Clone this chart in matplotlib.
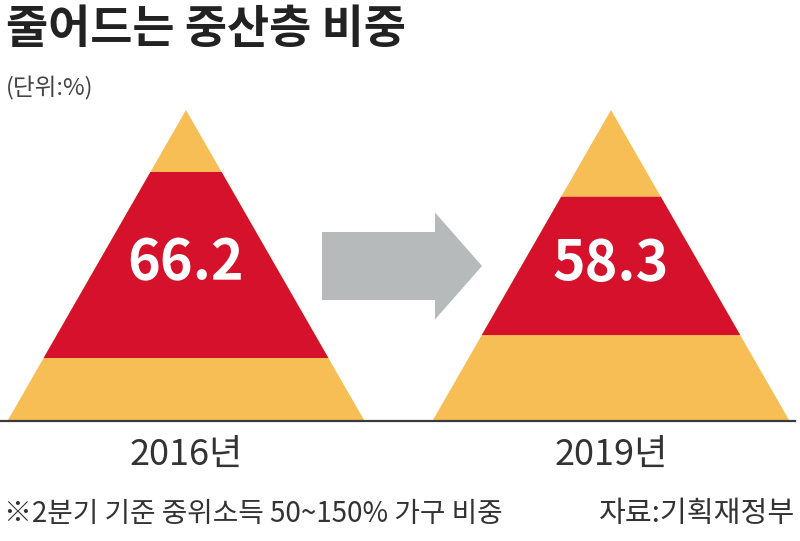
import matplotlib
matplotlib.use('Agg')
import matplotlib.pyplot as plt
from matplotlib.patches import Polygon, FancyArrow

plt.rcParams['font.family'] = ['Noto Sans CJK KR', 'DejaVu Sans']

# 데이터
years = ['2016년', '2019년']
middle_share = [66.2, 58.3]
# 중산층 띠의 위치 (삼각형 높이 대비, 밑변 기준)
band_low = [0.20, 0.274]
band_high = [0.80, 0.72]

title = '줄어드는 중산층 비중'
unit = '(단위:%)'
note = '※2분기 기준 중위소득 50~150% 가구 비중'
source = '자료:기획재정부'

yellow = '#F6BE55'
red = '#D5112B'
gray = '#B7BABA'

fig = plt.figure(figsize=(8, 5.41), dpi=100)
ax = fig.add_axes([0, 0, 1, 1])
ax.set_xlim(0, 800)
ax.set_ylim(541, 0)
ax.axis('off')

centers = [186, 611]
half_base = 178
apex_y, base_y = 110, 420
h = base_y - apex_y


def half_width(y):
    return half_base * (y - apex_y) / h


for cx, lo, hi, val in zip(centers, band_low, band_high, middle_share):
    # 전체 삼각형 (노란색)
    tri = Polygon([(cx, apex_y), (cx - half_base, base_y), (cx + half_base, base_y)],
                  closed=True, facecolor=yellow, edgecolor='none')
    ax.add_patch(tri)
    # 중산층 띠 (빨간색)
    y_top = base_y - hi * h
    y_bot = base_y - lo * h
    band = Polygon([(cx - half_width(y_top), y_top), (cx + half_width(y_top), y_top),
                    (cx + half_width(y_bot), y_bot), (cx - half_width(y_bot), y_bot)],
                   closed=True, facecolor=red, edgecolor='none')
    ax.add_patch(band)
    ax.text(cx, (y_top + y_bot) / 2 - 2, f'{val}', color='white', fontsize=40,
            fontweight='bold', ha='center', va='center')

# 화살표
arrow = FancyArrow(322, 266, 160, 0, width=68, head_width=107, head_length=47,
                   length_includes_head=True, facecolor=gray, edgecolor='none')
ax.add_patch(arrow)

# 기준선
ax.plot([0, 795], [421, 421], color='#3a3a3a', lw=1.6)

# 연도 라벨
for cx, yr in zip(centers, years):
    ax.text(cx, 455, yr, fontsize=26, ha='center', va='center', color='#333333')

ax.text(6, 30, title, fontsize=33, fontweight='bold', ha='left', va='center', color='#222222')
ax.text(6, 88, unit, fontsize=17, ha='left', va='center', color='#444444')
ax.text(4, 514, note, fontsize=20, ha='left', va='center', color='#333333')
ax.text(795, 514, source, fontsize=21, ha='right', va='center', color='#333333')

fig.savefig('out.png', dpi=100)
